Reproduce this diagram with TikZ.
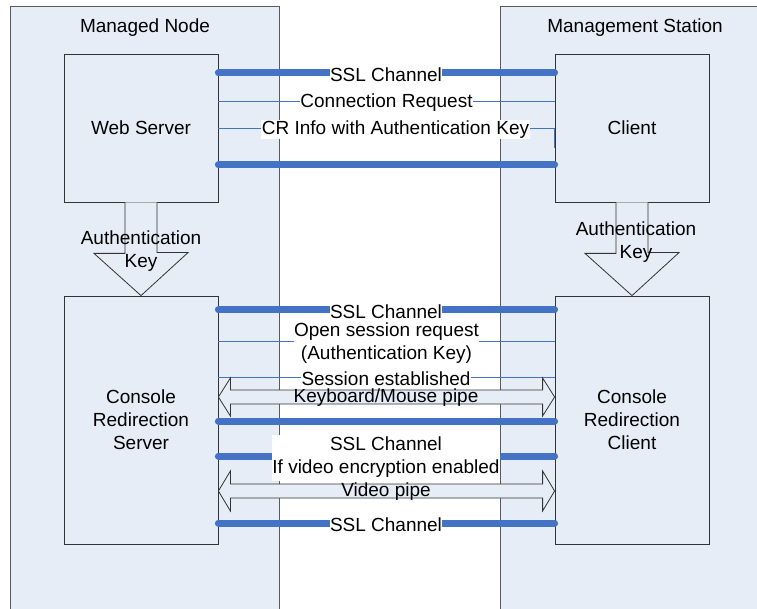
\documentclass[tikz,border=0pt]{standalone}
\usepackage{fontspec}
\setmainfont{Liberation Sans}
\usetikzlibrary{calc}
\definecolor{panelfill}{HTML}{E7EDF7}
\definecolor{sslblue}{HTML}{4472C4}
\definecolor{edgegray}{HTML}{5A5A5A}
\begin{document}
\begin{tikzpicture}[x=1pt,y=-1pt,
  every node/.style={font=\fontsize{19}{23}\selectfont, align=center},
  panel/.style={draw=edgegray, line width=1pt, fill=panelfill},
  box/.style={draw=black!80, line width=0.8pt, fill=panelfill, minimum width=154pt, inner sep=0pt},
  ssl/.style={draw=sslblue, line width=7pt, line cap=round},
  msg/.style={draw=sslblue, line width=0.8pt},
  lbl/.style={fill=white, inner sep=0.5pt},
  txt/.style={yshift=-1.5pt},
  blockarrow/.style={draw=black!80, line width=0.8pt, fill=panelfill},
  pipe/.style={draw=black!80, line width=0.8pt, fill=panelfill}
]
\useasboundingbox (0,0) rectangle (757,609);
\clip (0,0) rectangle (757,609);
\fill[white] (0,0) rectangle (757,609);
\draw[panel] (10,7) rectangle (279,640);
\draw[panel] (500,7) rectangle (790,640);
\node[txt] (mn) at (145,26) {Managed Node};
\node[txt] (ms) at (635,26) {Management Station};

\node[box, minimum height=148pt] (ws) at (141,128) {Web Server};
\node[box, minimum height=148pt] (cl) at (632,128) {Client};
\node[box, minimum height=248pt] (crs) at (141,420) {Console\\Redirection\\Server};
\node[box, minimum height=248pt] (crc) at (632,420) {Console\\Redirection\\Client};

% authentication key block arrows
\draw[blockarrow] ($(ws.south)+(-16,0)$) -- ++(0,51) -- ++(-31,0) -- (crs.north) -- ++(47,-43) -- ++(-31,0) -- ($(ws.south)+(16,0)$);
\draw[blockarrow] ($(cl.south)+(-16,0)$) -- ++(0,51) -- ++(-31,0) -- (crc.north) -- ++(47,-43) -- ++(-31,0) -- ($(cl.south)+(16,0)$);
\node[txt] (akl) at (141,249.5) {Authentication\\Key};
\node[txt] (akr) at (636,240.5) {Authentication\\Key};

% upper group
\draw[ssl] (ws.east |- 0,73) -- (cl.west |- 0,73);
\draw[msg] (ws.east |- 0,101) -- (cl.west |- 0,101);
\draw[msg] (ws.east |- 0,128) -- (cl.west |- 0,128) -- (cl.west |- 0,148);
\draw[ssl] (ws.east |- 0,165) -- (cl.west |- 0,165);
\node[lbl,txt] (s1) at (386,73) {SSL Channel};
\node[lbl,txt] (cr) at (386.5,101) {Connection Request};
\node[lbl,txt] (cri) at (395.5,128) {CR Info with Authentication Key};

% lower group
\draw[ssl] (crs.east |- 0,310) -- (crc.west |- 0,310);
\draw[msg] (crs.east |- 0,341) -- (crc.west |- 0,341);
\draw[msg] (crs.east |- 0,377) -- (crc.west |- 0,377);
\draw[pipe] (crs.east |- 0,397) -- ++(12,-19) -- ++(0,12) -- ($(crc.west |- 0,390)+(-12,0)$) -- ++(0,-12) -- (crc.west |- 0,397) -- ++(-12,19) -- ++(0,-12) -- ($(crs.east |- 0,404)+(12,0)$) -- ++(0,12) -- cycle;
\draw[ssl] (crs.east |- 0,421) -- (crc.west |- 0,421);
\draw[ssl] (crs.east |- 0,456) -- (crc.west |- 0,456);
\draw[pipe] (crs.east |- 0,491) -- ++(12,-20) -- ++(0,13) -- ($(crc.west |- 0,484)+(-12,0)$) -- ++(0,-13) -- (crc.west |- 0,491) -- ++(-12,20) -- ++(0,-13) -- ($(crs.east |- 0,498)+(12,0)$) -- ++(0,13) -- cycle;
\draw[ssl] (crs.east |- 0,523) -- (crc.west |- 0,523);

\node[lbl,txt] (osr) at (386.5,341.5) {Open session request\\(Authentication Key)};
\node[lbl,txt] (s2) at (386,310) {SSL Channel};
\node[lbl, inner sep=0.3pt, txt] (se) at (386,377) {Session established};
\node[txt] (kmp) at (386,396) {Keyboard/Mouse pipe};
\fill[white] (272,435) rectangle (500,481);
\node[txt] (s3) at (386,456) {SSL Channel\\If video encryption enabled};
\node[txt] (vp) at (386,490) {Video pipe};
\node[lbl,txt] (s4) at (386,523) {SSL Channel};
\end{tikzpicture}
\end{document}
